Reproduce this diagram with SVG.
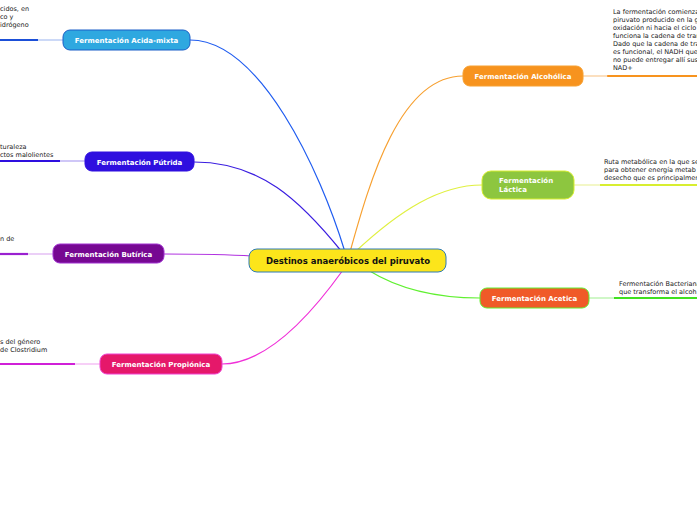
<svg xmlns="http://www.w3.org/2000/svg" width="697" height="520" viewBox="0 0 697 520">
<style>
text{font-family:"DejaVu Sans",Verdana,sans-serif}
.n{font-size:7px;font-weight:bold;fill:#fff}
.d{font-size:6.5px;fill:#222}
.c{fill:none;stroke-width:1.2}
.t{fill:none;stroke-width:2.2}
</style>
<rect width="697" height="520" fill="#fff"/>
<g id="connectors">
<path class="c" stroke="#1f5cf0" d="M345,252 C320,170 260,40 190,40"/>
<path class="c" stroke="#3a1de0" d="M342,252 C300,200 260,162 194,162"/>
<path class="c" stroke="#b030e0" d="M252,256 C220,254 200,254 164,254"/>
<path class="c" stroke="#f030d8" d="M343,270 C300,330 260,364 222,364"/>
<path class="c" stroke="#f7a030" d="M350,252 C370,180 400,76 463,76"/>
<path class="c" stroke="#e0f040" d="M355,252 C400,210 440,185 482,185"/>
<path class="c" stroke="#60f030" d="M368,270 C400,290 440,298 480,298"/>
<path class="c" stroke="#9ab4f0" d="M0,40 H63"/><path class="t" stroke="#1b4fd8" d="M0,40 H38"/>
<path class="c" stroke="#a090f0" d="M0,161 H85"/><path class="t" stroke="#2e0fdf" d="M0,161 H60"/>
<path class="c" stroke="#d8a0f0" d="M0,254 H53"/><path class="t" stroke="#9a20d0" d="M0,254 H28"/>
<path class="c" stroke="#f0a0f0" d="M0,364 H100"/><path class="t" stroke="#d020d8" d="M0,364 H75"/>
<path class="c" stroke="#f7c080" d="M583,76 H697"/><path class="t" stroke="#f7931e" stroke-width="4" stroke-linecap="round" d="M608,76 H697"/>
<path class="c" stroke="#e8f090" d="M574,185 H697"/><path class="t" stroke="#d8ee30" d="M600,185 H697"/>
<path class="c" stroke="#a0f090" d="M589,298 H697"/><path class="t" stroke="#40e020" d="M614,298 H697"/>
</g>
<g id="central"><rect x="249" y="249" width="197" height="23" rx="8" fill="#fce51b" stroke="#2d7bb6"/><text x="348" y="264" text-anchor="middle" style="font-size:8.5px;font-weight:bold;fill:#111">Destinos anaeróbicos del piruvato</text></g>
<g id="acida"><rect x="63" y="30" width="127" height="20" rx="7" fill="#2ea8e0" stroke="#1b5fc8"/><text class="n" x="126.5" y="43" text-anchor="middle">Fermentación Acida-mixta</text>
<text class="d" x="0" y="11">cidos, en</text><text class="d" x="0" y="19">co y</text><text class="d" x="0" y="27">idrógeno</text></g>
<g id="putrida"><rect x="85" y="152" width="109" height="19" rx="7" fill="#2e0fdf" stroke="#2e0fdf"/><text class="n" x="139.5" y="164.5" text-anchor="middle">Fermentación Pútrida</text>
<text class="d" x="0" y="149">turaleza</text><text class="d" x="0" y="157">ctos malolientes</text></g>
<g id="butirica"><rect x="53" y="244" width="111" height="19" rx="7" fill="#760892" stroke="#a030d0"/><text class="n" x="108.5" y="256.5" text-anchor="middle">Fermentación Butírica</text>
<text class="d" x="0" y="241">n de</text></g>
<g id="propionica"><rect x="100" y="354" width="122" height="20" rx="7" fill="#e5186a" stroke="#f040d0"/><text class="n" x="161" y="367" text-anchor="middle">Fermentación Propiónica</text>
<text class="d" x="0" y="344">s del género</text><text class="d" x="0" y="352">de Clostridium</text></g>
<g id="alcoholica"><rect x="463" y="66" width="120" height="20" rx="7" fill="#f7931e" stroke="#f7a030"/><text class="n" x="523" y="79" text-anchor="middle">Fermentación Alcohólica</text>
<text class="d" x="613" y="14">La fermentación comienza</text><text class="d" x="613" y="22">piruvato producido en la g</text><text class="d" x="613" y="30">oxidación ni hacia el ciclo</text><text class="d" x="613" y="38">funciona la cadena de tran</text><text class="d" x="613" y="46">Dado que la cadena de tra</text><text class="d" x="613" y="54">es funcional, el NADH que</text><text class="d" x="613" y="62">no puede entregar allí sus</text><text class="d" x="613" y="70">NAD+</text></g>
<g id="lactica"><rect x="482" y="171" width="92" height="28" rx="9" fill="#8dc63f" stroke="#d8ee30"/><text class="n" x="499" y="183">Fermentación</text><text class="n" x="499" y="192">Láctica</text>
<text class="d" x="604" y="164">Ruta metabólica en la que se</text><text class="d" x="604" y="172">para obtener energía metab</text><text class="d" x="604" y="180">desecho que es principalmen</text></g>
<g id="acetica"><rect x="480" y="288" width="109" height="20" rx="7" fill="#f05a28" stroke="#60f030"/><text class="n" x="534.5" y="301" text-anchor="middle">Fermentación Acetica</text>
<text class="d" x="619" y="286">Fermentación Bacteriana</text><text class="d" x="619" y="294">que transforma el alcoh</text></g>
</svg>
